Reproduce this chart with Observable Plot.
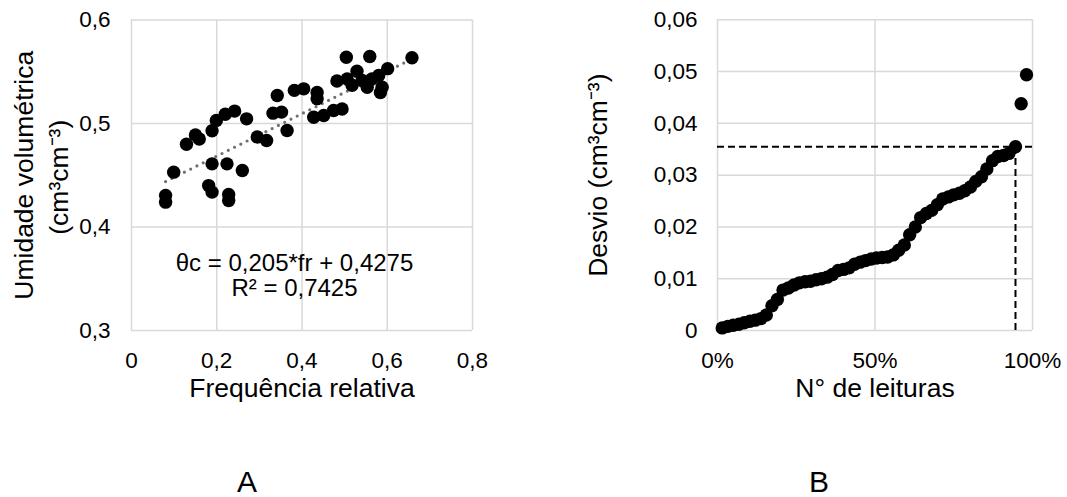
<!DOCTYPE html>
<html><head><meta charset="utf-8">
<script src="https://cdn.jsdelivr.net/npm/d3@7"></script>
<script src="https://cdn.jsdelivr.net/npm/@observablehq/plot@0.6"></script>
<style>
body{margin:0;background:#fff;}
#wrap{position:relative;width:1067px;height:497px;font-family:"Liberation Sans",Arial,sans-serif;color:#000;overflow:hidden;}
#a,#b{position:absolute;top:0;}
#a{left:0;} #b{left:533px;}
.lab{position:absolute;font-size:30px;line-height:1;color:#000;transform:translate(-50%,-50%);}
</style></head><body>
<div id="wrap"><div id="a"></div><div id="b"></div>
<div class="lab" style="left:247px;top:482px">A</div>
<div class="lab" style="left:819px;top:482px">B</div></div>
<script>
// ---- Chart A data: relative frequency vs. volumetric water content
const freq = [0.080,0.080,0.099,0.129,0.150,0.159,0.189,0.199,0.220,0.242,0.270,0.189,0.224,0.260,0.181,0.189,0.228,0.228,0.295,0.317,0.342,0.332,0.352,0.365,0.382,0.404,0.4355,0.4355,0.4275,0.451,0.474,0.494,0.482,0.506,0.529,0.504,0.559,0.5175,0.553,0.564,0.580,0.584,0.588,0.601,0.658,0.541];
const umid = [0.4305,0.424,0.453,0.480,0.489,0.485,0.493,0.503,0.509,0.512,0.5045,0.461,0.461,0.4546,0.440,0.4337,0.4314,0.4256,0.487,0.4836,0.527,0.510,0.511,0.4933,0.532,0.5335,0.530,0.524,0.506,0.5078,0.5126,0.514,0.541,0.543,0.5505,0.564,0.5647,0.537,0.535,0.543,0.5464,0.530,0.535,0.553,0.5635,0.5415];
const regCoef = [0.205, 0.4275]; // slope, intercept
const eqLines = ["θc = 0,205*fr + 0,4275", "R² = 0,7425"];
const xTicksA = [0, 0.2, 0.4, 0.6, 0.8];
const xTickLabelsA = ["0", "0,2", "0,4", "0,6", "0,8"];
const yTicksA = [0.3, 0.4, 0.5, 0.6];
const yTickLabelsA = ["0,3", "0,4", "0,5", "0,6"];
const xTitleA = "Frequência relativa";
const yTitleA = ["Umidade volumétrica", "(cm³cm⁻³)"];

// ---- Chart B data: sorted deviations
const leituras = [0.015,0.033,0.050,0.068,0.085,0.103,0.120,0.138,0.155,0.173,0.190,0.208,0.225,0.243,0.260,0.278,0.295,0.313,0.330,0.348,0.365,0.383,0.400,0.418,0.435,0.453,0.470,0.488,0.505,0.523,0.540,0.558,0.575,0.593,0.610,0.628,0.645,0.663,0.680,0.698,0.715,0.733,0.750,0.768,0.785,0.803,0.820,0.838,0.855,0.873,0.890,0.908,0.925,0.946,0.964,0.981];
const desvio = [0.0005,0.0008,0.0010,0.0012,0.0015,0.0018,0.0020,0.0023,0.0030,0.0048,0.0060,0.0078,0.0082,0.0088,0.0092,0.0094,0.0095,0.0098,0.0100,0.0103,0.0108,0.0116,0.0118,0.0121,0.0128,0.0132,0.0135,0.0138,0.0140,0.0141,0.0142,0.0146,0.0155,0.0165,0.0185,0.0200,0.0218,0.0226,0.0232,0.0243,0.0254,0.0258,0.0262,0.0265,0.0270,0.0277,0.0288,0.0297,0.0312,0.0328,0.0336,0.0338,0.0342,0.0355,0.0438,0.0494];
const limiteX = 0.946, limiteY = 0.0355;
const xTicksB = [0, 0.5, 1];
const xTickLabelsB = ["0%", "50%", "100%"];
const yTicksB = [0, 0.01, 0.02, 0.03, 0.04, 0.05, 0.06];
const yTickLabelsB = ["0", "0,01", "0,02", "0,03", "0,04", "0,05", "0,06"];
const xTitleB = "N° de leituras";
const yTitleB = "Desvio (cm³cm⁻³)";

const FONT = "Liberation Sans, Arial, sans-serif";
const GRID = "#d9d9d9";

const dataA = freq.map((f, i) => ({f, u: umid[i]}));
const xr = d3.extent(freq);
const trend = xr.map(x => ({f: x, u: regCoef[0] * x + regCoef[1]}));

const plotA = Plot.plot({
  width: 533, height: 420,
  marginLeft: 131, marginRight: 61, marginTop: 19.5, marginBottom: 90,
  style: {fontFamily: FONT, color: "#000", background: "transparent", overflow: "visible"},
  x: {domain: [0, 0.8]},
  y: {domain: [0.3, 0.6]},
  marks: [
    Plot.gridX(xTicksA, {stroke: GRID, strokeOpacity: 1, strokeWidth: 1.5}),
    Plot.gridY(yTicksA, {stroke: GRID, strokeOpacity: 1, strokeWidth: 1.5}),
    Plot.axisX(xTicksA, {tickSize: 0, tickPadding: 22, fontSize: 22.5, label: null, tickFormat: d => xTickLabelsA[xTicksA.indexOf(d)]}),
    Plot.axisY(yTicksA, {tickSize: 0, tickPadding: 21, fontSize: 22.5, label: null, tickFormat: d => yTickLabelsA[yTicksA.indexOf(d)]}),
    Plot.line(trend, {x: "f", y: "u", stroke: "#707070", strokeWidth: 3.2, strokeDasharray: "0,7", strokeLinecap: "round"}),
    Plot.dot(dataA, {x: "f", y: "u", r: 6.7, fill: "#000", stroke: "none"}),
    Plot.text([xTitleA], {frameAnchor: "bottom", dy: 66, fontSize: 26.5, text: d => d}),
    Plot.text([yTitleA[0]], {frameAnchor: "left", textAnchor: "middle", rotate: -90, dx: -107, fontSize: 26.5, text: d => d}),
    Plot.text([yTitleA[1]], {frameAnchor: "left", textAnchor: "middle", rotate: -90, dx: -72, dy: 2, fontSize: 26.5, text: d => d}),
    Plot.text([eqLines.join("\n")], {frameAnchor: "middle", dx: -7.5, dy: 100.5, fontSize: 24, lineHeight: 1.04, text: d => d})
  ]
});
document.getElementById("a").append(plotA);

const dataB = leituras.map((p, i) => ({p, d: desvio[i]}));
const plotB = Plot.plot({
  width: 534, height: 420,
  marginLeft: 184, marginRight: 35, marginTop: 19.3, marginBottom: 90,
  style: {fontFamily: FONT, color: "#000", background: "transparent", overflow: "visible"},
  x: {domain: [0, 1]},
  y: {domain: [0, 0.06]},
  marks: [
    Plot.gridX(xTicksB, {stroke: GRID, strokeOpacity: 1, strokeWidth: 1.5}),
    Plot.gridY(yTicksB, {stroke: GRID, strokeOpacity: 1, strokeWidth: 1.5}),
    Plot.axisX(xTicksB, {tickSize: 0, tickPadding: 22, fontSize: 22.5, label: null, tickFormat: d => xTickLabelsB[xTicksB.indexOf(d)]}),
    Plot.axisY(yTicksB, {tickSize: 0, tickPadding: 20, fontSize: 22.5, label: null, tickFormat: d => yTickLabelsB[yTicksB.indexOf(d)]}),
    Plot.ruleY([limiteY], {x1: 0, x2: 1, stroke: "#000", strokeWidth: 2, strokeDasharray: "7,4"}),
    Plot.ruleX([limiteX], {y1: 0, y2: limiteY, stroke: "#000", strokeWidth: 2, strokeDasharray: "7,4"}),
    Plot.dot(dataB, {x: "p", y: "d", r: 6.7, fill: "#000", stroke: "none"}),
    Plot.text([xTitleB], {frameAnchor: "bottom", dy: 66, fontSize: 26.5, text: d => d}),
    Plot.text([yTitleB], {frameAnchor: "left", textAnchor: "middle", rotate: -90, dx: -119, fontSize: 26.5, text: d => d})
  ]
});
document.getElementById("b").append(plotB);
</script>
</body></html>
